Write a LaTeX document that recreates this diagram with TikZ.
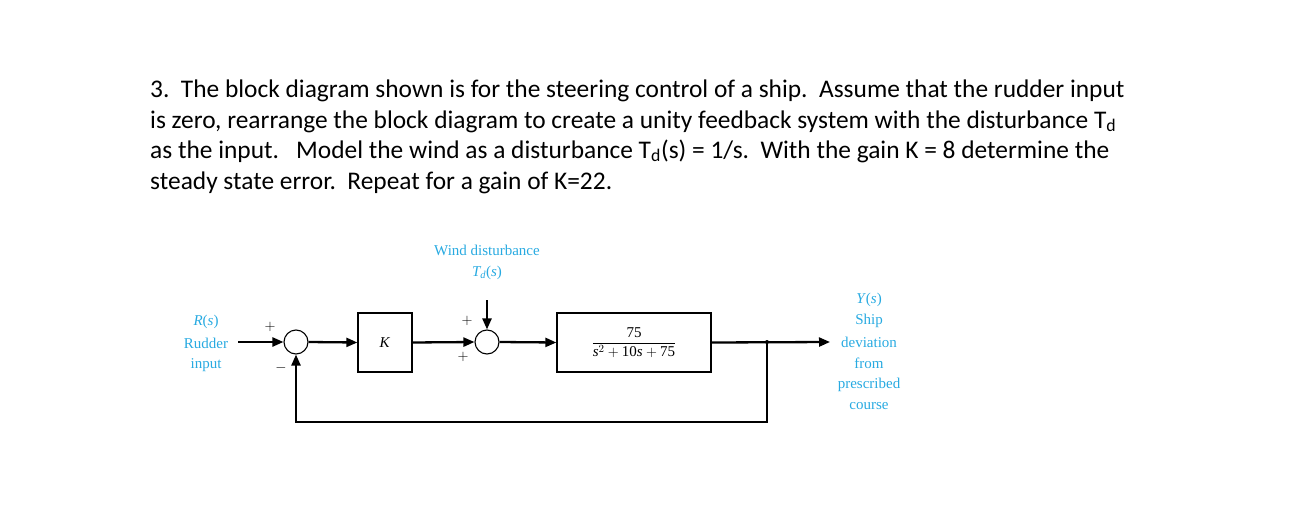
\documentclass[tikz,border=0pt]{standalone}
\usepackage{fontspec}
\setmainfont{Liberation Serif}
\newfontfamily\para{Carlito}
\usetikzlibrary{arrows.meta}
\definecolor{lab}{RGB}{40,170,225}
\begin{document}
\begin{tikzpicture}[x=1pt,y=-1pt,
  txt/.style={font=\para\fontsize{25.4}{30}\selectfont,anchor=base west,inner sep=0},
  lbl/.style={font=\fontsize{15}{17}\selectfont,text=lab,inner sep=0},
  sgn/.style={font=\fontsize{15}{17}\selectfont,inner sep=0},
  blk/.style={draw,line width=1.3pt,inner sep=0},
  sumc/.style={draw,circle,line width=1.1pt,minimum size=24pt,inner sep=0},
  sig/.style={line width=2.3pt,-{Triangle[length=11pt,width=9pt]}}]
\useasboundingbox (0,0) rectangle (1290,519);
\node[txt] (l1) at (150,97) {3.\ \ The block diagram shown is for the steering control of a ship.\ \ Assume that the rudder input};
\node[txt] (l2) at (150,128) {is zero, rearrange the block diagram to create a unity feedback system with the disturbance T\textsubscript{d}};
\node[txt] (l3) at (150,158) {as the input.\ \ \ Model the wind as a disturbance T\textsubscript{d}(s) = 1/s.\ \ With the gain K = 8 determine the};
\node[txt] (l4) at (150,189) {steady state error.\ \ Repeat for a gain of K=22.};
% blocks
\node[sumc] (s1) at (296,342) {};
\node[blk,minimum width=54pt,minimum height=59pt] (k) at (385,342.5) {\fontsize{15}{17}\selectfont\textit{K}};
\node[sumc] (s2) at (487,342) {};
\node[blk,minimum width=154pt,minimum height=59pt] (g) at (634,342.5) {\fontsize{15}{17}\selectfont$\displaystyle\frac{\mathrm{75}}{\textit{s}^2+\mathrm{10}\textit{s}+\mathrm{75}}$};
\coordinate (in) at (238,342);
\coordinate (out) at (830,342);
\coordinate (br) at (767,342);
\coordinate (bl) at (767,422);
\coordinate (bb) at (296,422);
\coordinate (td) at (487,300);
\draw[sig] (in) -- (s1.west);
\draw[sig] (s1.east) -- (k.west);
\draw[sig] (k.east) -- (s2.west);
\draw[sig] (td) -- (s2.north);
\draw[sig] (s2.east) -- (g.west);
\draw[sig] (g.east) -- (out);
\draw[sig] (br) -- (bl) -- (bb) -- (s1.south);
\fill (br) circle (2pt);
% signs
\node[sgn] at (270,327) {$+$};
\node[sgn] at (281,368) {$-$};
\node[sgn] at (467,321) {$+$};
\node[sgn] at (463,357) {$+$};
% labels
\node[lbl] (w) at (487,250) {Wind disturbance};
\node[lbl] (tdl) at (487,273) {\textit{T\textsubscript{d}}(\textit{s})};
\node[lbl] at (206,322) {\textit{R}(\textit{s})};
\node[lbl] at (206,343) {Rudder};
\node[lbl] at (206,365) {input};
\node[lbl] at (869,300) {\textit{Y}(\textit{s})};
\node[lbl] at (869,321) {Ship};
\node[lbl] at (869,342) {deviation};
\node[lbl] at (869,363) {from};
\node[lbl] at (869,385) {prescribed};
\node[lbl] at (869,406) {course};
\end{tikzpicture}
\end{document}
